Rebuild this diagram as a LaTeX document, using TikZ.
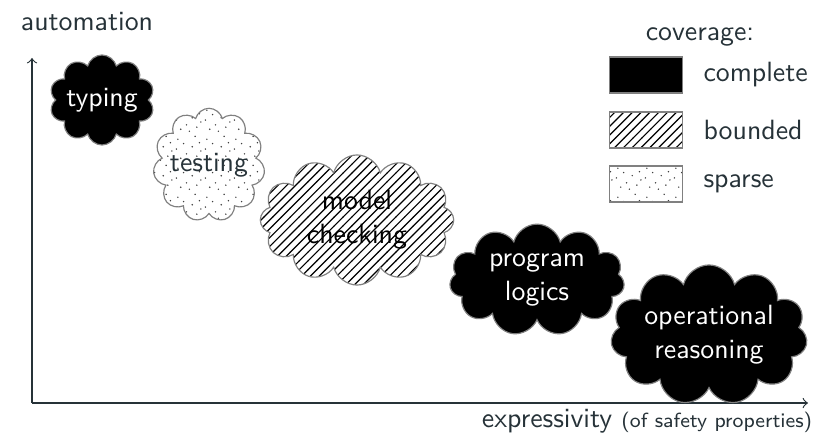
\documentclass[tikz,border=0pt]{standalone}
\usepackage{tikz}
\usetikzlibrary{shapes.symbols,patterns}
\definecolor{slate}{RGB}{38,50,56}

% sparse, irregular looking dots
\pgfdeclarepatternformonly{sparse dots}{\pgfpointorigin}{\pgfqpoint{10pt}{10pt}}{\pgfqpoint{10pt}{10pt}}{
  \foreach \px/\py in {1/2,4/7,7/3,9/8,2/5.5,6/9.5,8.5/0.8,5/4.8,3/0.5,0.5/8.7,7.6/6.2}
    {\pgfpathcircle{\pgfqpoint{\px pt}{\py pt}}{0.28pt}}
  \pgfusepath{fill}}

\begin{document}
\begin{tikzpicture}[x=0.012cm,y=-0.012cm,
  every node/.style={font=\sffamily\fontsize{9.5}{11.5}\selectfont,text=slate},
  blob/.style={cloud,cloud ignores aspect,draw=gray,line width=0.4pt,inner xsep=-5pt,inner ysep=0pt,align=center},
  complete/.style={blob,fill=black,text=white},
  bounded/.style={blob,pattern=north east lines,text=black},
  sparse/.style={blob,pattern=sparse dots,pattern color=black!75},
  keybox/.style={draw=gray,line width=0.4pt,minimum width=0.88cm,minimum height=0.43cm,inner sep=0pt}]

\useasboundingbox (0,0) rectangle (830,437);

% axes
\coordinate (origin) at (32,403);
\coordinate (ytip) at (32,58);
\coordinate (xtip) at (808,403);
\draw[->,slate,line width=0.4pt] (origin) -- (ytip);
\draw[->,slate,line width=0.4pt] (origin) -- (xtip);
\node (ylab) at (87,22) {automation};
\node (xlab) at (647,421) {expressivity \scriptsize(of safety properties)};

% clouds
\node at (102,100) [complete,cloud puffs=10,minimum width=1.26cm,minimum height=1.08cm] (typing) {typing};
\node at (209,165) [sparse,cloud puffs=11,minimum width=1.34cm,minimum height=1.36cm] (testing) {testing};
\node at (357,220) [bounded,cloud puffs=12,minimum width=2.32cm,minimum height=1.56cm] (model) {model\\checking};
\node at (537,280) [complete,cloud puffs=11,minimum width=2.1cm,minimum height=1.34cm] (logics) {program\\logics};
\node at (709,335) [complete,cloud puffs=11,minimum width=2.36cm,minimum height=1.68cm] (oper) {operational\\reasoning};

% legend
\node at (700,37) (cov) {coverage:};
\node at (646,75) [keybox,fill=black] (kcomplete) {};
\node at (646,130) [keybox,pattern=north east lines] (kbounded) {};
\node at (646,184) [keybox,pattern=sparse dots,pattern color=black!75] (ksparse) {};
\node at (700,75) [anchor=west,inner xsep=1pt] (lcomplete) {complete};
\node at (700,130) [anchor=west,inner xsep=1pt] (lbounded) {bounded};
\node at (700,184) [anchor=west,inner xsep=1pt] (lsparse) {sparse};

\end{tikzpicture}
\end{document}
